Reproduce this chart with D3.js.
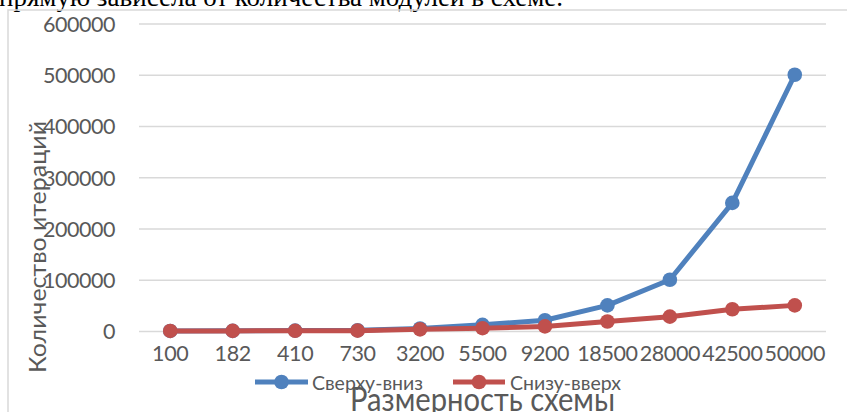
<!DOCTYPE html>
<html>
<head>
<meta charset="utf-8">
<script src="https://cdn.jsdelivr.net/npm/d3@7"></script>
<style>
  html, body { margin: 0; padding: 0; background: #fff; overflow: hidden; }
  svg { display: block; }
</style>
</head>
<body>
<svg id="chart" width="847" height="412"></svg>
<script>
// Размерность схемы (категории оси X)
const categories = ["100", "182", "410", "730", "3200", "5500", "9200", "18500", "28000", "42500", "50000"];
// Количество итераций для двух стратегий
const topDown  = [100, 300, 800, 1500, 5000, 12000, 21000, 50000, 100000, 250000, 500000];
const bottomUp = [100, 200, 400, 700, 3200, 5500, 9000, 18500, 28000, 42500, 50000];
const seriesNames = ["Сверху-вниз", "Снизу-вверх"];
const yTicks = [0, 100000, 200000, 300000, 400000, 500000, 600000];

const colors = ["#4f81bd", "#c0504d"];
const svg = d3.select("#chart");

// Строка текста документа над диаграммой
svg.append("text")
  .attr("x", -1).attr("y", 6)
  .attr("font-family", "Liberation Serif, Times New Roman, serif")
  .attr("font-size", 27)
  .attr("textLength", 564)
  .attr("lengthAdjust", "spacingAndGlyphs")
  .attr("fill", "#000")
  .text("прямую зависела от количества модулей в схеме.");

// Рамка области диаграммы
svg.append("rect")
  .attr("x", 8).attr("y", 10)
  .attr("width", 900).attr("height", 500)
  .attr("fill", "none")
  .attr("stroke", "#d9d9d9")
  .attr("stroke-width", 1.5);

const plot = { left: 139, right: 826 };
const x = d3.scaleBand().domain(categories).range([plot.left, plot.right]).paddingInner(0).paddingOuter(0);
const cx = d => x(d) + x.bandwidth() / 2;
const y = d3.scaleLinear().domain([0, 600000]).range([331, 23.5]);

// Сетка и подписи оси Y
const yAxis = svg.append("g")
  .attr("transform", `translate(${plot.left},0)`)
  .call(d3.axisLeft(y).tickValues(yTicks).tickSize(-(plot.right - plot.left)).tickPadding(24).tickFormat(d3.format("d")));
yAxis.select(".domain").remove();
yAxis.selectAll(".tick line").attr("stroke", "#d9d9d9").attr("stroke-width", 1.5);
yAxis.selectAll(".tick text")
  .attr("font-family", "Lato, Open Sans, sans-serif")
  .attr("font-size", 21.5)
  .attr("letter-spacing", "-0.45")
  .attr("fill", "#595959")
  .attr("dy", "0.36em");

// Подписи оси X
const xAxis = svg.append("g")
  .attr("transform", `translate(0,331)`)
  .call(d3.axisBottom(x).tickSize(0).tickPadding(30));
xAxis.select(".domain").remove();
xAxis.selectAll(".tick text")
  .attr("font-family", "Lato, Open Sans, sans-serif")
  .attr("font-size", 21.5)
  .attr("letter-spacing", "-0.4")
  .attr("fill", "#595959")
  .attr("dy", "0");

// Линии и маркеры рядов
const seriesData = [topDown, bottomUp];
const line = d3.line().x((d, i) => cx(categories[i])).y(d => y(d));
seriesData.forEach((vals, s) => {
  const g = svg.append("g");
  g.append("path")
    .datum(vals)
    .attr("d", line)
    .attr("fill", "none")
    .attr("stroke", colors[s])
    .attr("stroke-width", 5)
    .attr("stroke-linejoin", "round")
    .attr("stroke-linecap", "round");
  g.selectAll("circle")
    .data(vals)
    .join("circle")
    .attr("cx", (d, i) => cx(categories[i]))
    .attr("cy", d => y(d))
    .attr("r", 7.3)
    .attr("fill", colors[s]);
});

// Легенда
const legendItems = [
  { x0: 255, x1: 308, tx: 312, tl: 111 },
  { x0: 453, x1: 505, tx: 510, tl: 111 }
];
legendItems.forEach((it, s) => {
  const g = svg.append("g");
  g.append("line")
    .attr("x1", it.x0).attr("x2", it.x1)
    .attr("y1", 382).attr("y2", 382)
    .attr("stroke", colors[s]).attr("stroke-width", 5);
  g.append("circle")
    .attr("cx", (it.x0 + it.x1) / 2).attr("cy", 382)
    .attr("r", 7.3).attr("fill", colors[s]);
  g.append("text")
    .attr("x", it.tx).attr("y", 389.5)
    .attr("font-family", "Lato, Open Sans, sans-serif")
    .attr("font-size", 19)
    .attr("textLength", it.tl)
    .attr("lengthAdjust", "spacingAndGlyphs")
    .attr("fill", "#595959")
    .text(seriesNames[s]);
});

// Заголовки осей
svg.append("text")
  .attr("transform", "translate(46,247) rotate(-90)")
  .attr("text-anchor", "middle")
  .attr("font-family", "Lato, Open Sans, sans-serif")
  .attr("font-size", 24)
  .attr("textLength", 252)
  .attr("lengthAdjust", "spacingAndGlyphs")
  .attr("fill", "#595959")
  .text("Количество итераций");

svg.append("text")
  .attr("x", 350).attr("y", 411)
  .attr("font-family", "Lato, Open Sans, sans-serif")
  .attr("font-size", 32)
  .attr("textLength", 265)
  .attr("lengthAdjust", "spacingAndGlyphs")
  .attr("fill", "#595959")
  .text("Размерность схемы");
</script>
</body>
</html>
